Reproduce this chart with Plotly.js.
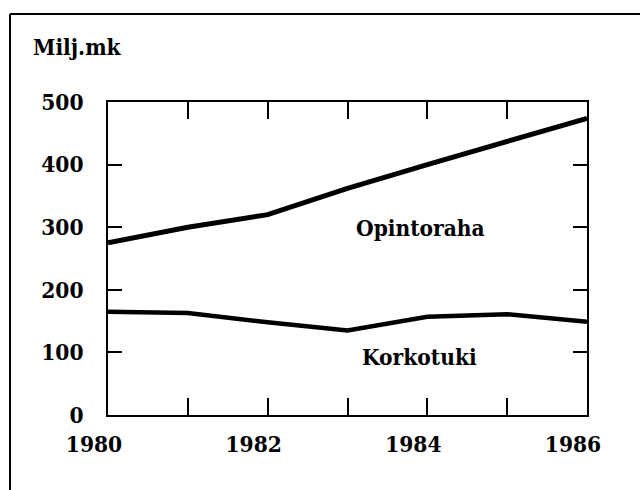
<!DOCTYPE html>
<html>
<head>
<meta charset="utf-8">
<script src="https://cdn.plot.ly/plotly-3.0.1.min.js"></script>
<style>
html,body{margin:0;padding:0;background:#fff;overflow:hidden;}
#chart{width:640px;height:490px;}
</style>
</head>
<body>
<div id="chart"></div>
<script>
const years = [1980, 1981, 1982, 1983, 1984, 1985, 1986];
const opintoraha = [275, 300, 320, 362, 400, 437, 474];
const korkotuki = [165, 163, 148, 135, 157, 161, 149];
const xTickVals = [1980, 1981, 1982, 1983, 1984, 1985, 1986];
const xTickText = ['1980', '', '1982', '', '1984', '', '1986'];
const yTickVals = [0, 100, 200, 300, 400, 500];
const yTickText = ['0', '100', '200', '300', '400', '500'];
const unitLabel = 'Milj.mk';
const seriesLabels = ['Opintoraha', 'Korkotuki'];

const FONT = 'DejaVu Serif Condensed, DejaVu Serif, serif';
const FS = 22.5;
const L = 108, R = 587, T = 102, B = 415;
const W = 640, H = 490;
const pw = R - L, ph = B - T;
const px = v => (v - L) / pw;
const py = v => (B - v) / ph;
const tf = {family: FONT, size: FS, color: '#000', weight: 'bold'};

const traces = [
  {x: years, y: opintoraha, mode: 'lines', line: {color: '#000', width: 5}, name: seriesLabels[0], hoverinfo: 'skip'},
  {x: years, y: korkotuki, mode: 'lines', line: {color: '#000', width: 4.5}, name: seriesLabels[1], hoverinfo: 'skip'}
];

const layout = {
  width: W, height: H,
  margin: {l: L, r: W - R, t: T, b: H - B, pad: 0},
  paper_bgcolor: '#fff', plot_bgcolor: '#fff',
  showlegend: false,
  font: {family: FONT, color: '#000', size: FS},
  xaxis: {
    range: [1980, 1986], tickmode: 'array', tickvals: xTickVals, ticktext: xTickText,
    showgrid: false, zeroline: false, showline: true, linecolor: '#000', linewidth: 2,
    mirror: 'ticks', ticks: 'inside', ticklen: 17, tickwidth: 2, tickcolor: '#000',
    tickfont: tf, ticklabelshift: -14, ticklabelstandoff: 8, fixedrange: true
  },
  yaxis: {
    range: [0, 500], tickmode: 'array', tickvals: yTickVals, ticktext: yTickText,
    showgrid: false, zeroline: false, showline: true, linecolor: '#000', linewidth: 2,
    mirror: 'ticks', ticks: 'inside', ticklen: 14, tickwidth: 2, tickcolor: '#000',
    tickfont: tf, ticklabelstandoff: 18, fixedrange: true
  },
  annotations: [
    {xref: 'paper', yref: 'paper', x: px(31), y: py(47), xanchor: 'left', yanchor: 'middle',
     text: unitLabel, showarrow: false, font: tf},
    {xref: 'x', yref: 'y', x: 1983.92, y: 299, xanchor: 'center', yanchor: 'middle',
     text: seriesLabels[0], showarrow: false, font: tf},
    {xref: 'x', yref: 'y', x: 1983.9, y: 93, xanchor: 'center', yanchor: 'middle',
     text: seriesLabels[1], showarrow: false, font: tf}
  ],
  shapes: [
    {type: 'line', xref: 'paper', yref: 'paper', layer: 'below',
     x0: px(10), x1: px(700), y0: py(14), y1: py(14), line: {color: '#000', width: 2}},
    {type: 'line', xref: 'paper', yref: 'paper', layer: 'below',
     x0: px(10), x1: px(10), y0: py(14), y1: py(600), line: {color: '#000', width: 2}}
  ]
};

Plotly.newPlot('chart', traces, layout, {staticPlot: true, displayModeBar: false});
</script>
</body>
</html>
